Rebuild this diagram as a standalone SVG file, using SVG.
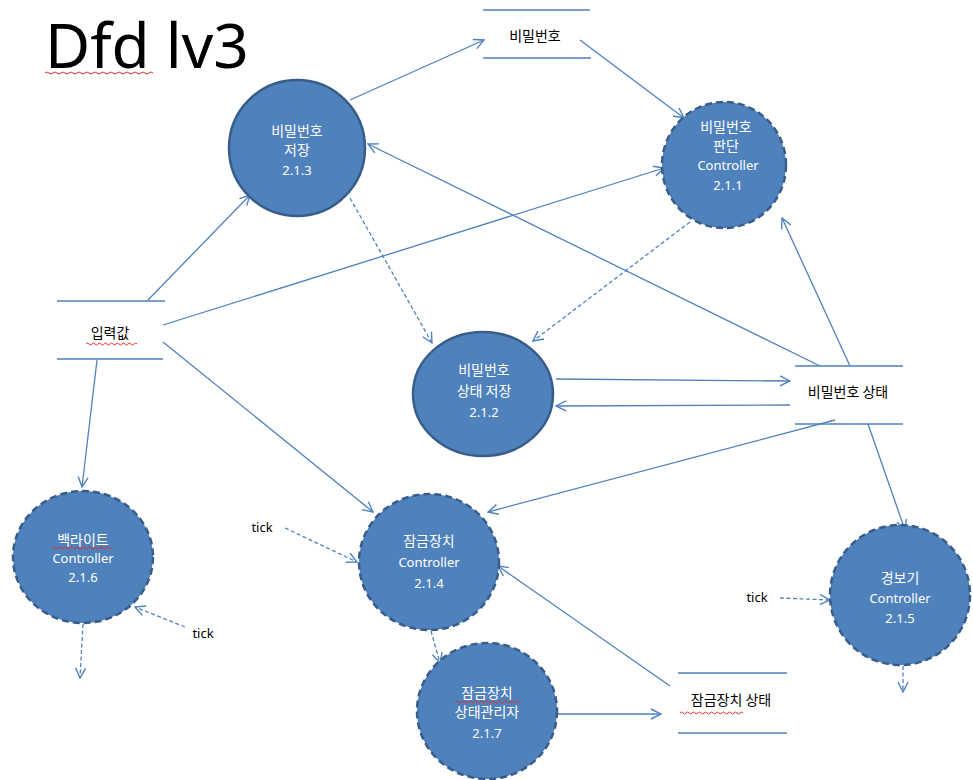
<svg xmlns="http://www.w3.org/2000/svg" width="973" height="780" viewBox="0 0 973 780">
<style>
.bg{fill:#ffffff}
.proc{fill:#4F81BD;stroke:#385D8A;stroke-width:2.5}
.dash{stroke-dasharray:7 4}
.ct{fill:#ffffff;font-family:"Malgun Gothic","Noto Sans CJK KR",sans-serif;font-size:14px;text-anchor:middle}
.cn{fill:#ffffff;font-family:"Noto Sans","Noto Sans CJK KR",sans-serif;font-size:13px;text-anchor:middle}
.st{fill:#000000;font-family:"Noto Sans CJK KR",sans-serif;font-size:14px;text-anchor:middle}
.tk{fill:#000000;font-family:"Noto Sans","Liberation Sans",sans-serif;font-size:13px;text-anchor:middle}
.sl{stroke:#4F81BD;stroke-width:1.6;fill:none}
.c{stroke:#4F81BD;stroke-width:1.3;fill:none;marker-end:url(#arr)}
.d{stroke:#4F81BD;stroke-width:1.3;fill:none;stroke-dasharray:4 2.5;marker-end:url(#arr)}
.sp{stroke:#E03030;stroke-width:1;fill:none}
</style>
<defs>
<marker id="arr" viewBox="0 0 12 12" refX="11" refY="6" markerWidth="12" markerHeight="12" markerUnits="userSpaceOnUse" orient="auto">
<path d="M1,1 L11,6 L1,11" fill="none" stroke="#4F81BD" stroke-width="1.4"/>
</marker>
</defs>
<rect class="bg" x="0" y="0" width="973" height="780"/>
<text x="45" y="68" font-family="Noto Sans, Liberation Sans, sans-serif" font-size="62" fill="#000">Dfd lv3</text>

<g id="connectors">
<line class="c" x1="148" y1="300" x2="250" y2="195"/>
<line class="c" x1="163" y1="325" x2="664" y2="168"/>
<line class="c" x1="163" y1="342" x2="373" y2="512"/>
<line class="c" x1="97" y1="360" x2="82" y2="487"/>
<line class="c" x1="350" y1="100" x2="484" y2="40"/>
<line class="c" x1="580" y1="40" x2="684" y2="118"/>
<line class="c" x1="820" y1="366" x2="368" y2="144"/>
<line class="c" x1="850" y1="366" x2="782" y2="218"/>
<line class="c" x1="556" y1="379" x2="790" y2="381"/>
<line class="c" x1="790" y1="405" x2="556" y2="406"/>
<line class="c" x1="835" y1="420" x2="488" y2="512"/>
<line class="c" x1="868" y1="424" x2="905" y2="530"/>
<line class="d" x1="350" y1="198" x2="432" y2="343"/>
<line class="d" x1="690" y1="222" x2="533" y2="341"/>
<line class="d" x1="285" y1="528" x2="357" y2="562"/>
<line class="d" x1="185" y1="627" x2="135" y2="607"/>
<line class="d" x1="83" y1="624" x2="80" y2="678"/>
<line class="d" x1="780" y1="598" x2="830" y2="600"/>
<line class="d" x1="903" y1="666" x2="903" y2="692"/>
<line class="d" x1="431" y1="631" x2="440" y2="663"/>
<line class="c" x1="558" y1="714" x2="661" y2="714"/>
<line class="c" x1="670" y1="686" x2="498" y2="566"/>
</g>

<g id="store-password">
<line class="sl" x1="483" y1="10" x2="590" y2="10"/>
<line class="sl" x1="483" y1="58" x2="591" y2="58"/>
<text class="st" x="535" y="41">비밀번호</text>
</g>
<g id="store-input">
<line class="sl" x1="57" y1="301" x2="165" y2="301"/>
<line class="sl" x1="57" y1="359" x2="163" y2="359"/>
<text class="st" x="110" y="338">입력값</text>
</g>
<g id="store-pwstate">
<line class="sl" x1="795" y1="366" x2="903" y2="366"/>
<line class="sl" x1="795" y1="424" x2="903" y2="424"/>
<text class="st" x="848" y="397">비밀번호 상태</text>
</g>
<g id="store-lockstate">
<line class="sl" x1="678" y1="673" x2="787" y2="673"/>
<line class="sl" x1="678" y1="733" x2="787" y2="733"/>
<text class="st" x="731" y="705">잠금장치 상태</text>
</g>

<g id="p213">
<ellipse class="proc" cx="297" cy="148" rx="68" ry="68"/>
<text class="ct" x="297" y="136">비밀번호</text>
<text class="ct" x="297" y="155">저장</text>
<text class="cn" x="297" y="175">2.1.3</text>
</g>
<g id="p211">
<ellipse class="proc dash" cx="724" cy="165" rx="62" ry="63"/>
<text class="ct" x="726" y="132">비밀번호</text>
<text class="ct" x="726" y="151">판단</text>
<text class="cn" x="728" y="170">Controller</text>
<text class="cn" x="728" y="190">2.1.1</text>
</g>
<g id="p212">
<ellipse class="proc" cx="483" cy="394" rx="70" ry="62"/>
<text class="ct" x="484" y="375">비밀번호</text>
<text class="ct" x="484" y="396">상태 저장</text>
<text class="cn" x="484" y="417">2.1.2</text>
</g>
<g id="p214">
<ellipse class="proc dash" cx="429" cy="562" rx="70" ry="68"/>
<text class="ct" x="429" y="546">잠금장치</text>
<text class="cn" x="429" y="567">Controller</text>
<text class="cn" x="429" y="588">2.1.4</text>
</g>
<g id="p216">
<ellipse class="proc dash" cx="83" cy="557" rx="70" ry="66"/>
<text class="ct" x="83" y="545">백라이트</text>
<text class="cn" x="83" y="563">Controller</text>
<text class="cn" x="83" y="582">2.1.6</text>
</g>
<g id="p215">
<ellipse class="proc dash" cx="900" cy="595" rx="70" ry="70"/>
<text class="ct" x="900" y="583">경보기</text>
<text class="cn" x="900" y="603">Controller</text>
<text class="cn" x="900" y="623">2.1.5</text>
</g>
<g id="p217">
<ellipse class="proc dash" cx="487" cy="711" rx="70" ry="68"/>
<text class="ct" x="487" y="698">잠금장치</text>
<text class="ct" x="487" y="717">상태관리자</text>
<text class="cn" x="487" y="738">2.1.7</text>
</g>

<g id="tick-labels">
<text class="tk" x="262" y="532">tick</text>
<text class="tk" x="203" y="638">tick</text>
<text class="tk" x="757" y="602">tick</text>
</g>

<g id="spell-marks">
<path class="sp" d="M45,73 q2,-2 4,0 t4,0 t4,0 t4,0 t4,0 t4,0 t4,0 t4,0 t4,0 t4,0 t4,0 t4,0 t4,0 t4,0 t4,0 t4,0 t4,0 t4,0 t4,0 t4,0 t4,0 t4,0 t4,0 t4,0 t4,0 t4,0 t4,0"/>
<path class="sp" d="M86,344 q1.5,-2 3,0 t3,0 t3,0 t3,0 t3,0 t3,0 t3,0 t3,0 t3,0 t3,0 t3,0 t3,0 t3,0 t3,0 t3,0 t3,0 t3,0"/>
<path class="sp" d="M52,548 q1.5,-2 3,0 t3,0 t3,0 t3,0 t3,0 t3,0 t3,0 t3,0 t3,0 t3,0 t3,0 t3,0 t3,0 t3,0 t3,0 t3,0 t3,0 t3,0 t3,0 t3,0"/>
<path class="sp" d="M456,702 q1.5,-2 3,0 t3,0 t3,0 t3,0 t3,0 t3,0 t3,0 t3,0 t3,0 t3,0 t3,0 t3,0 t3,0 t3,0 t3,0 t3,0 t3,0 t3,0 t3,0 t3,0 t3,0"/>
<path class="sp" d="M680,713 q1.5,-2 3,0 t3,0 t3,0 t3,0 t3,0 t3,0 t3,0 t3,0 t3,0 t3,0 t3,0 t3,0 t3,0 t3,0 t3,0 t3,0 t3,0 t3,0 t3,0 t3,0 t3,0"/>
</g>
</svg>
